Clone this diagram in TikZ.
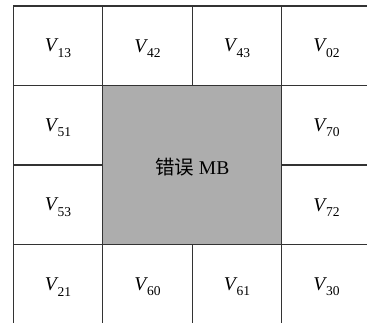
\documentclass[tikz,border=0pt]{standalone}
\usepackage{fontspec}
\setmainfont{Liberation Serif}
\newfontfamily\cjk{Noto Sans CJK SC}
\definecolor{linegray}{HTML}{333333}
\definecolor{boxgray}{HTML}{ADADAD}
\newcommand{\Vlab}[1]{\raisebox{-2.5pt}[\height][\depth]{\textit{V}\kern-1pt\raisebox{-0.28em}{\fontsize{13.5}{14}\selectfont #1}}}
\tikzset{
  cell/.style={draw=linegray, line width=1.3pt, fill=white, anchor=north west,
    minimum width=89.5pt, minimum height=79.5pt, inner sep=0pt,
    font=\fontsize{19.5}{21}\selectfont},
  errbox/.style={cell, fill=boxgray, minimum width=179pt, minimum height=159pt}
}
\begin{document}
\begin{tikzpicture}[x=1pt,y=-1pt]
\useasboundingbox (0,0) rectangle (367,323);
\clip (0,0) rectangle (367,323);
% row 1
\node[cell] (c13) at (12.5,5.5) {\Vlab{13}};
\node[cell] (c42) at (102,5.5) {\Vlab{42}};
\node[cell] (c43) at (191.5,5.5) {\Vlab{43}};
\node[cell] (c02) at (281,5.5) {\Vlab{02}};
% rows 2-3
\node[cell] (c51) at (12.5,85) {\Vlab{51}};
\node[cell] (c53) at (12.5,164.5) {\Vlab{53}};
\node[errbox] (err) at (102,85) {\raisebox{-1.5pt}[\height][\depth]{{\cjk 错误} MB}};
\node[cell] (c70) at (281,85) {\Vlab{70}};
\node[cell] (c72) at (281,164.5) {\Vlab{72}};
% row 4
\node[cell] (c21) at (12.5,244) {\Vlab{21}};
\node[cell] (c60) at (102,244) {\Vlab{60}};
\node[cell] (c61) at (191.5,244) {\Vlab{61}};
\node[cell] (c30) at (281,244) {\Vlab{30}};
\end{tikzpicture}
\end{document}
